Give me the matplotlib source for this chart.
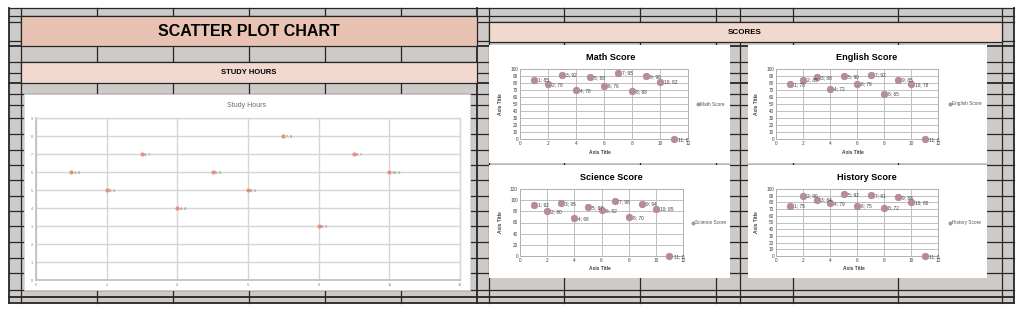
import matplotlib
matplotlib.use("Agg")
import matplotlib.pyplot as plt
from matplotlib.patches import Rectangle

plt.rcParams['font.family'] = ['Liberation Sans', 'DejaVu Sans']

# ---------------------------------------------------------------------------
# DATA
# ---------------------------------------------------------------------------
study_x = [1, 2, 3, 4, 5, 6, 7, 8, 9, 10]
study_hours = [6, 5, 7, 4, 6, 5, 8, 3, 7, 6]

score_x = [1, 2, 3, 4, 5, 6, 7, 8, 9, 10, 11]
math_score = [85, 78, 92, 70, 88, 76, 95, 68, 90, 82, 0]
english_score = [78, 85, 88, 72, 90, 79, 92, 65, 85, 78, 0]
science_score = [92, 80, 95, 68, 87, 82, 98, 70, 94, 85, 0]
history_score = [75, 90, 84, 79, 92, 75, 91, 72, 88, 80, 0]

# ---------------------------------------------------------------------------
# LAYOUT (pixels)
# ---------------------------------------------------------------------------
W, H = 1023, 314
GRAY = '#cdcac8'
LINE = '#262626'
BAND_DARK = '#e8c2b3'
BAND_LIGHT = '#f1d9cf'

fig = plt.figure(figsize=(W / 100, H / 100), dpi=100, facecolor='white')


def frac(x0, y0, x1, y1):
    return [x0 / W, 1 - y1 / H, (x1 - x0) / W, (y1 - y0) / H]


bg = fig.add_axes([0, 0, 1, 1])
bg.set_xlim(0, W)
bg.set_ylim(H, 0)
bg.axis('off')

# sheet background + grid
bg.add_patch(Rectangle((9, 8), 1005, 295, facecolor=GRAY, edgecolor='none', zorder=0))
rows = [8, 16, 22, 41, 46, 62, 73, 83, 94, 105, 118, 134, 150, 165, 180,
        196, 211, 226, 242, 258, 273, 290, 297, 303]
cols = [9, 21, 97, 173, 249, 325, 401, 477, 489, 564, 640, 716, 740, 793, 898, 1002, 1014]
for y in rows:
    bg.plot([9, 1014], [y, y], color=LINE, lw=1.3 if y in (297, 303, 46, 83) else 0.9, zorder=1)
for x in cols:
    bg.plot([x, x], [8, 303], color=LINE, lw=1.3 if x in (477, 9, 1014) else 0.9, zorder=1)

# header bands
bg.add_patch(Rectangle((21, 16), 456, 30, facecolor=BAND_DARK, edgecolor=LINE, lw=0.9, zorder=2))
bg.add_patch(Rectangle((21, 62), 456, 21, facecolor=BAND_LIGHT, edgecolor=LINE, lw=0.9, zorder=2))
bg.add_patch(Rectangle((489, 22), 513, 20, facecolor=BAND_LIGHT, edgecolor=LINE, lw=0.9, zorder=2))
bg.text(249, 31, 'SCATTER PLOT CHART', ha='center', va='center', fontsize=11.5,
        fontweight='heavy', color='black', zorder=3)
bg.text(249, 73, 'STUDY HOURS', ha='center', va='center', fontsize=5.5,
        fontweight='bold', color='black', zorder=3)
bg.text(745, 32.5, 'SCORES', ha='center', va='center', fontsize=5.8,
        fontweight='bold', color='black', zorder=3)

# white chart panels
bg.add_patch(Rectangle((24, 94), 446, 196, facecolor='white', edgecolor='#d8d8d8', lw=0.6, zorder=2))
for px, py in [(489, 45), (748, 45), (489, 165), (748, 165)]:
    bg.add_patch(Rectangle((px, py), 241 if px == 489 else 239, 118 if py == 45 else 113,
                           facecolor='white', edgecolor='none', zorder=2))

# ---------------------------------------------------------------------------
# STUDY HOURS CHART
# ---------------------------------------------------------------------------
ax = fig.add_axes(frac(36, 118, 460, 280))
ax.scatter(study_x, study_hours, s=9, color='#e8907b', zorder=3, linewidths=0)
for x, y in zip(study_x, study_hours):
    ax.annotate(f"{x}; {y}", (x, y), xytext=(1.8, -0.2), textcoords='offset points',
                fontsize=2.7, color='#707070', va='center')
ax.set_xlim(0, 12)
ax.set_ylim(0, 9)
ax.set_xticks(range(0, 13, 2))
ax.set_yticks(range(0, 10))
ax.grid(color='#d6d6d6', lw=1.0)
ax.set_axisbelow(True)
for s in ax.spines.values():
    s.set_color('#d6d6d6')
    s.set_linewidth(1.0)
ax.spines['left'].set_color('#c2c2c2')
ax.spines['bottom'].set_color('#c2c2c2')
ax.spines['left'].set_linewidth(1.3)
ax.spines['bottom'].set_linewidth(1.3)
ax.tick_params(length=0, labelsize=2.7, colors='#808080', pad=2)
fig.text(247 / W, 1 - 106 / H, 'Study Hours', ha='center', va='center',
         fontsize=5, color='#6a6a6a')

# ---------------------------------------------------------------------------
# SCORE CHARTS
# ---------------------------------------------------------------------------
charts = [
    ('Math Score', math_score, 100, 10, (520, 69, 688, 139), 611, 57, 600, 153, 501, 698),
    ('English Score', english_score, 100, 10, (776, 69, 938, 139), 867, 57, 853, 153, 757, 950),
    ('Science Score', science_score, 120, 20, (520, 189, 683, 256), 611, 178, 600, 269, 501, 693),
    ('History Score', history_score, 100, 10, (776, 189, 938, 256), 867, 178, 854, 269, 757, 950),
]
for title, ys, ymax, ystep, box, tx, ty, xlx, xly, ylx, legx in charts:
    x0, y0, x1, y1 = box
    a = fig.add_axes(frac(x0, y0, x1, y1))
    a.scatter(score_x, ys, s=24, color='#b78b98', edgecolors='#a67d89', linewidths=0.3,
              zorder=3, clip_on=False, label=title)
    for x, y in zip(score_x, ys):
        a.annotate(f"{x}; {y}", (x, y), xytext=(3.0, -0.3), textcoords='offset points',
                   fontsize=3.4, color='#3c3c3c', va='center')
    a.set_xlim(0, 12)
    a.set_ylim(0, ymax)
    a.set_xticks(range(0, 13, 2))
    a.set_yticks(range(0, ymax + 1, ystep))
    a.grid(color='#c0c0c0', lw=0.7)
    a.set_axisbelow(True)
    for s in a.spines.values():
        s.set_color('#b0b0b0')
        s.set_linewidth(0.7)
    a.tick_params(length=0, labelsize=3.4, colors='#404040', pad=1.5)
    fig.text(tx / W, 1 - ty / H, title, ha='center', va='center', fontsize=6.6,
             fontweight='bold', color='black')
    fig.text(xlx / W, 1 - xly / H, 'Axis Title', ha='center', va='center', fontsize=3.5,
             fontweight='bold', color='#404040')
    fig.text(ylx / W, 1 - ((y0 + y1) / 2) / H, 'Axis Title', ha='center', va='center',
             fontsize=3.5, fontweight='bold', color='#404040', rotation=90)
    a.legend(loc='center left', bbox_to_anchor=((legx - 1.5 - x0) / (x1 - x0), 0.5),
             frameon=False, fontsize=3.4, handlelength=0.6, handletextpad=0.2,
             borderpad=0, borderaxespad=0, markerscale=0.5, labelcolor='#505050')

fig.savefig('out.png', dpi=100, facecolor='white')
